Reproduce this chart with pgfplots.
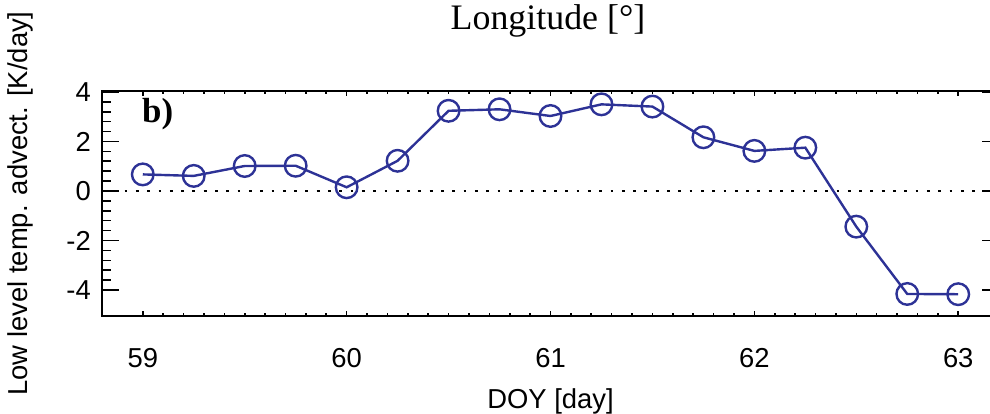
\documentclass[border=0pt]{standalone}
\usepackage{fontspec}
\setmainfont{Liberation Serif}
\newfontfamily\helv{Liberation Sans}
\usepackage{pgfplots}
\pgfplotsset{compat=1.18}
\definecolor{lineblue}{RGB}{45,50,150}

\begin{document}
\begin{tikzpicture}
\begin{axis}[
  at={(102bp,98bp)}, anchor=south west,
  scale only axis, width=897bp, height=225bp,
  xmin=58.8, xmax=63.2, ymin=-5.05, ymax=4.04,
  xtick={59,60,61,62,63}, ytick={-4,-2,0,2,4},
  minor x tick num=9, minor y tick num=4,
  tick align=inside,
  axis line style={line width=2.2bp},
  every tick/.style={black, line width=1.6bp},
  major tick length=17bp, minor tick length=9bp,
  xtick style={/pgfplots/major tick length=5bp, /pgfplots/minor tick length=3bp},
  /pgf/number format/assume math mode=true,
  tick label style={font=\helv\fontsize{27.5}{30}\selectfont, inner sep=0pt},
  xticklabel style={anchor=base, yshift=-51bp},
  yticklabel style={anchor=east, xshift=-11bp},
  xlabel={DOY [day]},
  ylabel={Low level temp. advect. [K/day]},
  every axis x label/.style={at={(axis description cs:0.5,-0.409)}, anchor=base, font=\helv\fontsize{27.5}{30}\selectfont},
  every axis y label/.style={at={(axis description cs:-0.0914,0.5)}, rotate=90, anchor=center, font=\helv\fontsize{27.5}{30}\selectfont},
]
\addplot[black, line width=2.8bp, dash pattern=on 2.8bp off 8.5bp] coordinates {(58.8,0) (63.2,0)};
\addplot[lineblue, line width=2.4bp, mark=o, mark size=10.8bp, mark options={line width=2.4bp}] coordinates {
  (59.00,0.67) (59.25,0.61) (59.50,1.01) (59.75,1.02) (60.00,0.15)
  (60.25,1.22) (60.50,3.24) (60.75,3.30) (61.00,3.03) (61.25,3.50)
  (61.50,3.41) (61.75,2.17) (62.00,1.62) (62.25,1.75) (62.50,-1.44)
  (62.75,-4.16) (63.00,-4.17)
};
\end{axis}
\node[anchor=base west, font=\bfseries\fontsize{35}{38}\selectfont, inner sep=0pt] at (142bp,291bp) {b)};
\node[anchor=base, font=\fontsize{36}{40}\selectfont, inner sep=0pt] at (548bp,384bp) {Longitude [°]};
\pgfresetboundingbox
\path[use as bounding box] (0,0) rectangle (990bp,414bp);
\end{tikzpicture}
\end{document}
